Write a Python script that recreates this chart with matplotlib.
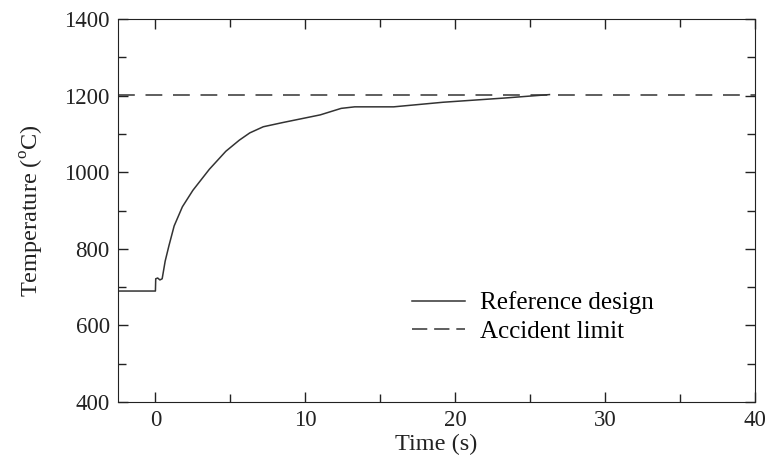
import matplotlib
matplotlib.use("Agg")
import matplotlib.pyplot as plt
from matplotlib.ticker import MultipleLocator

plt.rcParams["font.family"] = "Liberation Serif"
plt.rcParams["mathtext.fontset"] = "custom"
plt.rcParams["mathtext.rm"] = "Liberation Serif"

# reference design transient
time_s = [-2.5, 0.0, 0.02, 0.15, 0.3, 0.45, 0.65, 0.9, 1.25, 1.8, 2.5,
          3.6, 4.7, 5.6, 6.3, 7.2, 8.5, 10.0, 11.0, 12.4, 13.3, 15.9,
          19.2, 23.3, 26.3]
temp_c = [690, 690, 722, 724, 719, 722, 768, 808, 860, 910, 953,
          1008, 1055, 1084, 1103, 1119, 1130, 1142, 1150, 1167, 1171, 1171,
          1183, 1194, 1203]

limit_c = 1203
line_color = "#333333"
text_color = "#222222"

fig = plt.figure(figsize=(7.67, 4.67), dpi=100)
ax = fig.add_axes([0.1538, 0.139, 0.8302, 0.820])

ax.plot(time_s, temp_c, color=line_color, lw=1.1, label="Reference design")
ax.axhline(limit_c, color=line_color, lw=1.1, dashes=(11, 7),
           label="Accident limit")

ax.set_xlim(-2.5, 40)
ax.set_ylim(400, 1400)
ax.xaxis.set_major_locator(MultipleLocator(10))
ax.xaxis.set_minor_locator(MultipleLocator(5))
ax.yaxis.set_major_locator(MultipleLocator(200))
ax.yaxis.set_minor_locator(MultipleLocator(100))
ax.tick_params(which="both", direction="in", top=True, right=True,
               labelsize=16.5, colors=text_color)
ax.tick_params(which="major", length=7, width=1, pad=6)
ax.tick_params(which="minor", length=6, width=1)
for sp in ax.spines.values():
    sp.set_color(text_color)

ax.set_xlabel("Time (s)", fontsize=17.5, color=text_color, labelpad=2)
ax.set_ylabel(r"Temperature ($^{\mathrm{o}}$C)", fontsize=17.5,
              color=text_color, labelpad=13)

leg = ax.legend(loc="upper left", bbox_to_anchor=(0.427, 0.348),
                frameon=False, fontsize=18, handlelength=2.1,
                handletextpad=0.6, labelspacing=0.25)
leg.get_lines()[1].set_dashes((10, 4.5))

fig.savefig("out.png", dpi=100)
